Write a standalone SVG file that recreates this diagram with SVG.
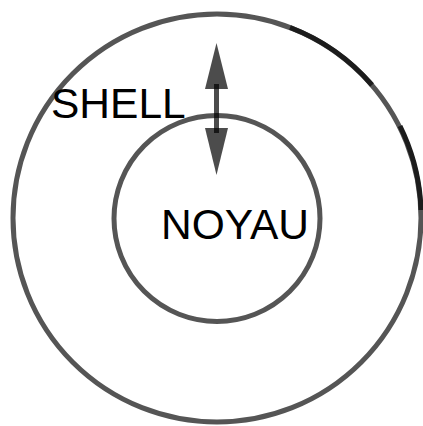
<svg xmlns="http://www.w3.org/2000/svg" width="423" height="426" viewBox="0 0 423 426">
<style>
.ring{fill:none;stroke:#555;stroke-width:5}
.dark{fill:none;stroke:#1c1c1c;stroke-width:5}
.lbl{font-family:"Liberation Sans",Arial,sans-serif;font-size:42.5px;fill:#000}
.arr{fill:#000;fill-opacity:0.7}
.shaft{stroke:#000;stroke-opacity:0.7;stroke-width:5}
</style>
<rect width="423" height="426" fill="#fff"/>
<g id="shell">
<circle class="ring" cx="217" cy="218" r="204"/>
<path class="dark" d="M290,27.5 A204,204 0 0 1 372,85"/>
<path class="dark" d="M400,126 A204,204 0 0 1 421,210"/>
<text class="lbl" x="51" y="118">SHELL</text>
</g>
<g id="noyau">
<circle class="ring" cx="217" cy="218.5" r="103"/>
<text class="lbl" x="161" y="239">NOYAU</text>
</g>
<g id="connectors">
<line class="shaft" x1="216.5" y1="84" x2="216.5" y2="133"/>
<polygon class="arr" points="216.5,43 228,89 205,89"/>
<polygon class="arr" points="216.5,175 228,128 205,128"/>
</g>
</svg>
